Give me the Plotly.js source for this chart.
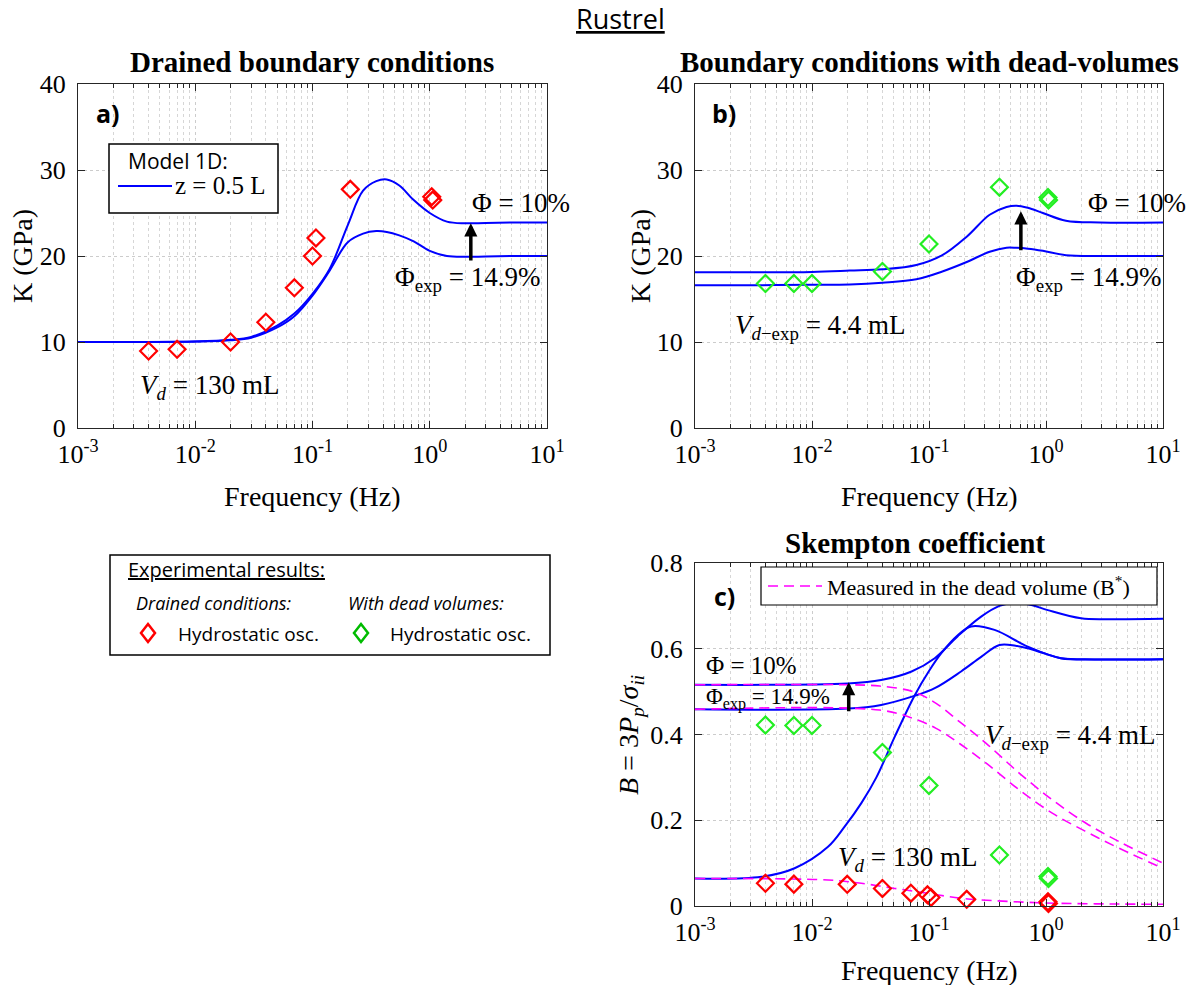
<!DOCTYPE html>
<html>
<head>
<meta charset="utf-8">
<script src="https://cdn.plot.ly/plotly-3.0.1.min.js"></script>
<style>html,body{margin:0;padding:0;background:#fff;}</style>
</head>
<body>
<div id="chart" style="width:1193px;height:985px;"></div>
<script>
// ---------------- DATA ----------------
// x-axis tick labels (log frequency)
const freqTickVals = [0.001, 0.01, 0.1, 1, 10];
const freqTickText = ['10<sup>-3</sup>', '10<sup>-2</sup>', '10<sup>-1</sup>', '10<sup>0</sup>', '10<sup>1</sup>'];

// Panel a) drained boundary conditions - model curves
const freqA = [0.001, 0.003, 0.01, 0.02, 0.03, 0.05, 0.07, 0.1, 0.14, 0.2, 0.27, 0.35, 0.43, 0.55, 0.73, 1.0, 1.4, 2.0, 3, 5, 10];
const kA_phi10  = [10.0, 10.0, 10.05, 10.25, 10.6, 11.9, 13.3, 15.6, 18.5, 23.6, 27.6, 28.7, 28.9, 28.2, 26.5, 25.0, 24.0, 23.8, 23.85, 23.9, 23.9];
const kA_phi149 = [10.0, 10.0, 10.05, 10.2, 10.5, 11.7, 13.0, 15.4, 18.3, 21.6, 22.6, 22.9, 22.8, 22.4, 21.7, 20.6, 20.0, 19.9, 19.95, 20.0, 20.0];
// Panel a) experimental points (drained)
const expA_freq = [0.004, 0.007, 0.02, 0.04, 0.07, 0.1, 0.107, 0.21, 1.04, 1.06];
const expA_K    = [8.95, 9.15, 10.0, 12.3, 16.3, 20.0, 22.1, 27.75, 26.9, 26.5];

// Panel b) dead-volume boundary conditions - model curves
const freqB = [0.001, 0.003, 0.01, 0.021, 0.04, 0.078, 0.13, 0.21, 0.33, 0.46, 0.56, 0.7, 0.94, 1.48, 2.9, 10];
const kB_phi10  = [18.1, 18.1, 18.15, 18.3, 18.45, 18.95, 20.1, 22.25, 24.8, 25.7, 25.85, 25.6, 25.0, 24.1, 23.9, 23.9];
const kB_phi149 = [16.6, 16.6, 16.65, 16.7, 16.9, 17.3, 18.2, 19.3, 20.5, 20.97, 20.95, 20.85, 20.6, 20.1, 20.0, 20.0];
// Panel b) experimental points (dead volumes)
const expB_freq = [0.004, 0.007, 0.01, 0.04, 0.1, 0.4, 1.04, 1.05];
const expB_K    = [16.8, 16.8, 16.8, 18.2, 21.4, 28.0, 26.8, 26.5];

// Panel c) Skempton coefficient - model curves
const freqC_phi10 = [0.001, 0.0203, 0.039, 0.071, 0.112, 0.177, 0.279, 0.40, 0.537, 0.75, 1.035, 1.99, 3.59, 10];
const bC_phi10    = [0.516, 0.519, 0.527, 0.547, 0.578, 0.630, 0.675, 0.700, 0.7075, 0.702, 0.690, 0.671, 0.669, 0.670];
const freqC_phi149 = [0.001, 0.0203, 0.039, 0.075, 0.112, 0.188, 0.279, 0.40, 0.55, 0.698, 1.0, 1.34, 2.59, 10];
const bC_phi149    = [0.459, 0.4605, 0.469, 0.490, 0.508, 0.547, 0.581, 0.6087, 0.607, 0.601, 0.588, 0.578, 0.575, 0.5755];
const freqC_vd130 = [0.001, 0.0037, 0.0071, 0.0137, 0.019, 0.0264, 0.0355, 0.051, 0.075, 0.1, 0.127, 0.177, 0.229, 0.363, 0.698, 1.34, 3, 10];
const bC_vd130    = [0.064, 0.068, 0.088, 0.138, 0.185, 0.240, 0.300, 0.395, 0.490, 0.548, 0.589, 0.632, 0.652, 0.644, 0.605, 0.578, 0.575, 0.5755];
// Panel c) measured in dead volume (B*)
const freqD1 = [0.001, 0.0203, 0.0379, 0.073, 0.115, 0.182, 0.308, 0.593, 1.14, 2.2, 4.23, 10];
const bD1    = [0.516, 0.516, 0.513, 0.500, 0.4726, 0.430, 0.3794, 0.3095, 0.247, 0.193, 0.150, 0.100];
const freqD2 = [0.001, 0.0379, 0.073, 0.115, 0.182, 0.308, 0.593, 1.14, 2.2, 4.23, 10];
const bD2    = [0.4587, 0.457, 0.4377, 0.4144, 0.379, 0.333, 0.2706, 0.216, 0.1734, 0.1345, 0.088];
const freqD3 = [0.001, 0.0137, 0.0264, 0.051, 0.098, 0.188, 0.363, 0.698, 1.34, 3.59, 10];
const bD3    = [0.064, 0.0607, 0.053, 0.041, 0.0296, 0.018, 0.0124, 0.0086, 0.0062, 0.0047, 0.004];
// Panel c) experimental points
const expC_red_freq   = [0.004, 0.007, 0.02, 0.04, 0.07, 0.097, 0.104, 0.21, 1.04, 1.05];
const expC_red_B      = [0.053, 0.051, 0.0505, 0.041, 0.030, 0.026, 0.020, 0.0155, 0.010, 0.006];
const expC_green_freq = [0.004, 0.007, 0.01, 0.04, 0.1, 0.4, 1.04, 1.05];
const expC_green_B    = [0.422, 0.421, 0.421, 0.358, 0.281, 0.119, 0.069, 0.064];

// ---------------- STYLE ----------------
const W = 1193, H = 985;
const BLUE = '#0000ff', RED = '#ff0000', GREEN = '#22ee22', MAG = '#ff00ff';
const SERIF = 'Liberation Serif, Times New Roman, serif';
const SANS = 'Open Sans, Lato, sans-serif';
const px = v => v / W;
const py = v => 1 - v / H;

// minor log tick positions (2..9 per decade)
const minorVals = [];
for (let e = -3; e < 1; e++) for (let m = 2; m <= 9; m++) minorVals.push(m * Math.pow(10, e));

function line(x, y, xa, ya, extra) {
  return Object.assign({x: x, y: y, xaxis: xa, yaxis: ya, mode: 'lines', type: 'scatter',
    line: {color: BLUE, width: 2, shape: 'spline', smoothing: 1}, hoverinfo: 'skip'}, extra || {});
}
function dashed(x, y, xa, ya) {
  return {x: x, y: y, xaxis: xa, yaxis: ya, mode: 'lines', type: 'scatter',
    line: {color: MAG, width: 1.6, dash: '10px,6px', shape: 'spline', smoothing: 1}, hoverinfo: 'skip'};
}
function pts(x, y, xa, ya, color) {
  return {x: x, y: y, xaxis: xa, yaxis: ya, mode: 'markers', type: 'scatter', cliponaxis: false,
    marker: {symbol: 'diamond-open', size: 13, color: color, line: {color: color, width: 2.2}}};
}

const traces = [
  line(freqA, kA_phi149, 'x', 'y'),
  line(freqA, kA_phi10, 'x', 'y'),
  pts(expA_freq, expA_K, 'x', 'y', RED),
  line(freqB, kB_phi149, 'x2', 'y2'),
  line(freqB, kB_phi10, 'x2', 'y2'),
  pts(expB_freq, expB_K, 'x2', 'y2', GREEN),
  line(freqC_phi10, bC_phi10, 'x3', 'y3'),
  line(freqC_phi149, bC_phi149, 'x3', 'y3'),
  line(freqC_vd130, bC_vd130, 'x3', 'y3'),
  dashed(freqD1, bD1, 'x3', 'y3'),
  dashed(freqD2, bD2, 'x3', 'y3'),
  dashed(freqD3, bD3, 'x3', 'y3'),
  pts(expC_green_freq, expC_green_B, 'x3', 'y3', GREEN),
  pts(expC_red_freq, expC_red_B, 'x3', 'y3', RED)
];

function xAxis(domain, anchor) {
  return {type: 'log', range: [-3, 1], domain: domain, anchor: anchor,
    showline: true, linecolor: '#262626', linewidth: 1, mirror: 'ticks',
    ticks: 'inside', ticklen: 7, tickwidth: 1, tickcolor: '#262626',
    tickmode: 'array', tickvals: freqTickVals, ticktext: freqTickText,
    tickfont: {family: SERIF, size: 26, color: '#000'}, ticklabelstandoff: 3,
    showgrid: true, gridcolor: '#cccccc', griddash: 'dot', gridwidth: 1, zeroline: false,
    minor: {tickmode: 'array', tickvals: minorVals, ticks: 'inside', ticklen: 4, tickcolor: '#262626',
      showgrid: true, gridcolor: '#d6d6d6', griddash: 'dot', gridwidth: 1}};
}
function yAxis(domain, anchor, range, dtick) {
  return {range: range, domain: domain, anchor: anchor, dtick: dtick, tick0: 0,
    showline: true, linecolor: '#262626', linewidth: 1, mirror: 'ticks',
    ticks: 'inside', ticklen: 7, tickwidth: 1, tickcolor: '#262626',
    tickfont: {family: SERIF, size: 26, color: '#000'}, ticklabelstandoff: 6,
    showgrid: true, gridcolor: '#cccccc', griddash: 'dot', gridwidth: 1, zeroline: false};
}

const dxA = [px(78), px(547)], dxB = [px(695), px(1163)];
const dyTop = [py(428), py(84)], dyC = [py(906), py(563)];

function txt(x, y, text, size, family, opts) {
  return Object.assign({xref: 'paper', yref: 'paper', x: px(x), y: py(y), text: text, showarrow: false,
    xanchor: 'left', yanchor: 'middle', font: {family: family || SERIF, size: size, color: '#000'}}, opts || {});
}
function arrow(xa, ya, f, yHead, yTail) {
  return {xref: xa, yref: ya, axref: xa, ayref: ya, x: Math.log10(f), y: yHead,
    ax: Math.log10(f), ay: yTail, text: '', showarrow: true, arrowhead: 2, arrowsize: 0.75,
    arrowwidth: 3.5, arrowcolor: '#000'};
}

const annotations = [
  txt(620, 19, '<u>Rustrel</u>', 27, SANS, {xanchor: 'center'}),
  txt(312, 62, '<b>Drained boundary conditions</b>', 29, SERIF, {xanchor: 'center'}),
  txt(929, 62, '<b>Boundary conditions with dead-volumes</b>', 29, SERIF, {xanchor: 'center'}),
  txt(915, 543, '<b>Skempton coefficient</b>', 29, SERIF, {xanchor: 'center'}),
  // axis titles
  txt(22, 256, 'K (GPa)', 28, SERIF, {xanchor: 'center', textangle: -90}),
  txt(640, 256, 'K (GPa)', 28, SERIF, {xanchor: 'center', textangle: -90}),
  txt(630, 735, '<i>B</i> = 3<i>P</i><sub><i>p</i></sub>/<i>σ</i><sub><i>ii</i></sub>', 28, SERIF, {xanchor: 'center', textangle: -90}),
  txt(312, 496, 'Frequency (Hz)', 28, SERIF, {xanchor: 'center'}),
  txt(929, 496, 'Frequency (Hz)', 28, SERIF, {xanchor: 'center'}),
  txt(929, 970, 'Frequency (Hz)', 28, SERIF, {xanchor: 'center'}),
  // panel a
  txt(94, 113, '<b>a)</b>', 25, SANS),
  txt(126, 161, 'Model 1D:', 21, SANS),
  txt(173, 186, 'z = 0.5 L', 25, SERIF),
  txt(470, 203, 'Φ = 10%', 27, SERIF),
  txt(393, 279, 'Φ<sub>exp</sub> = 14.9%', 27, SERIF),
  txt(138, 387, '<i>V</i><sub><i>d</i></sub> = 130 mL', 27, SERIF),
  // panel b
  txt(710, 113, '<b>b)</b>', 25, SANS),
  txt(1086, 203, 'Φ = 10%', 27, SERIF),
  txt(1014, 279, 'Φ<sub>exp</sub> = 14.9%', 27, SERIF),
  txt(733, 327, '<i>V</i><sub><i>d</i>−exp</sub> = 4.4 mL', 27, SERIF),
  // panel c
  txt(712, 596, '<b>c)</b>', 25, SANS),
  txt(825, 586, 'Measured in the dead volume (B<sup>*</sup>)', 22, SERIF),
  txt(704, 665, 'Φ = 10%', 25, SERIF),
  txt(704, 698, 'Φ<sub>exp</sub> = 14.9%', 23, SERIF),
  txt(983, 737, '<i>V</i><sub><i>d</i>−exp</sub> = 4.4 mL', 27, SERIF),
  txt(836, 859, '<i>V</i><sub><i>d</i></sub> = 130 mL', 27, SERIF),
  // experimental legend box
  txt(126, 569, '<u>Experimental results:</u>', 20, SANS),
  txt(134, 603, '<i>Drained conditions:</i>', 18, SANS),
  txt(346, 603, '<i>With dead volumes:</i>', 18, SANS),
  txt(176, 634, 'Hydrostatic osc.', 19, SANS),
  txt(388, 634, 'Hydrostatic osc.', 19, SANS),
  // arrows
  arrow('x', 'y', 2.24, 23.8, 19.3),
  arrow('x2', 'y2', 0.61, 25.2, 20.5),
  arrow('x3', 'y3', 0.0206, 0.522, 0.451)
];

function diamondPath(cx, cy, hw, hh) {
  return 'M' + px(cx) + ',' + py(cy - hh) + ' L' + px(cx + hw) + ',' + py(cy) +
    ' L' + px(cx) + ',' + py(cy + hh) + ' L' + px(cx - hw) + ',' + py(cy) + ' Z';
}

const shapes = [
  {type: 'rect', xref: 'paper', yref: 'paper', x0: px(109), x1: px(278), y0: py(213), y1: py(144),
    line: {color: '#000', width: 1.5}, fillcolor: '#fff', layer: 'above'},
  {type: 'line', xref: 'paper', yref: 'paper', x0: px(118), x1: px(172), y0: py(186), y1: py(186),
    line: {color: BLUE, width: 2}, layer: 'above'},
  {type: 'rect', xref: 'paper', yref: 'paper', x0: px(761), x1: px(1157), y0: py(605), y1: py(567),
    line: {color: '#000', width: 1.2}, fillcolor: '#fff', layer: 'above'},
  {type: 'line', xref: 'paper', yref: 'paper', x0: px(768), x1: px(822), y0: py(586), y1: py(586),
    line: {color: MAG, width: 1.6, dash: '10px,6px'}, layer: 'above'},
  {type: 'rect', xref: 'paper', yref: 'paper', x0: px(110), x1: px(550), y0: py(655), y1: py(555),
    line: {color: '#000', width: 1.5}},
  {type: 'path', xref: 'paper', yref: 'paper', path: diamondPath(148, 633, 7, 9), line: {color: RED, width: 2.5}},
  {type: 'path', xref: 'paper', yref: 'paper', path: diamondPath(361, 633, 7, 9), line: {color: '#00bb00', width: 2.5}}
];

const layout = {
  width: W, height: H, margin: {l: 0, r: 0, t: 0, b: 0},
  paper_bgcolor: '#fff', plot_bgcolor: '#fff', showlegend: false,
  xaxis: xAxis(dxA, 'y'), yaxis: yAxis(dyTop, 'x', [0, 40], 10),
  xaxis2: xAxis(dxB, 'y2'), yaxis2: yAxis(dyTop, 'x2', [0, 40], 10),
  xaxis3: xAxis(dxB, 'y3'), yaxis3: yAxis(dyC, 'x3', [0, 0.8], 0.2),
  annotations: annotations, shapes: shapes
};

Plotly.newPlot('chart', traces, layout, {staticPlot: true, displayModeBar: false});
</script>
</body>
</html>
